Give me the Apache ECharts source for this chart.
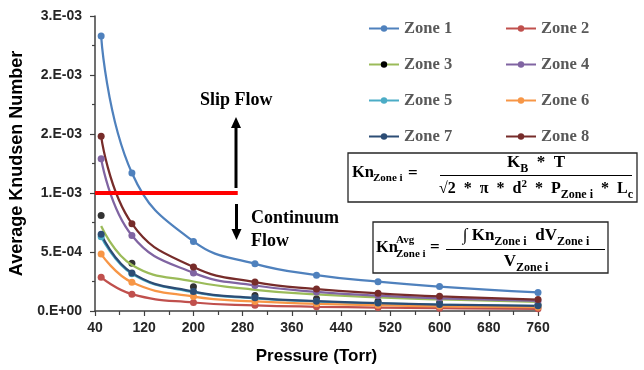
<!DOCTYPE html>
<html>
<head>
<meta charset="utf-8">
<script src="https://cdn.jsdelivr.net/npm/echarts@6/dist/echarts.min.js"></script>
<style>
  html, body { margin: 0; padding: 0; background: #fff; }
  #chart { width: 644px; height: 370px; }
</style>
</head>
<body>
<div id="chart"></div>
<script>
// pressure points (Torr)
const pressures = [50, 100, 200, 300, 400, 500, 600, 760];

// average Knudsen number per zone
const zone1 = [2.33e-3, 1.17e-3, 5.9e-4, 4.0e-4, 3.04e-4, 2.48e-4, 2.07e-4, 1.57e-4];
const zone2 = [2.85e-4, 1.43e-4, 7.2e-5, 4.8e-5, 3.6e-5, 2.9e-5, 2.4e-5, 1.9e-5];
const zone3 = [7.2e-4, 3.9e-4, 2.5e-4, 1.8e-4, 1.4e-4, 1.15e-4, 9.8e-5, 7.8e-5];
const zone4 = [1.29e-3, 6.4e-4, 3.23e-4, 2.16e-4, 1.62e-4, 1.3e-4, 1.08e-4, 8.5e-5];
const zone5 = [6.3e-4, 3.15e-4, 1.6e-4, 1.07e-4, 8.0e-5, 6.4e-5, 5.3e-5, 4.2e-5];
const zone6 = [4.82e-4, 2.43e-4, 1.22e-4, 8.1e-5, 6.1e-5, 4.9e-5, 4.0e-5, 3.2e-5];
const zone7 = [6.5e-4, 3.23e-4, 1.65e-4, 1.12e-4, 8.3e-5, 6.7e-5, 5.5e-5, 4.4e-5];
const zone8 = [1.48e-3, 7.4e-4, 3.73e-4, 2.45e-4, 1.86e-4, 1.5e-4, 1.24e-4, 9.7e-5];
// black markers drawn for zone 3
const zone3Markers = [8.1e-4, 4.05e-4, 2.05e-4, 1.32e-4, 1.04e-4, 8.3e-5, 6.9e-5, 5.4e-5];

const zoneNames = ['Zone 1', 'Zone 2', 'Zone 3', 'Zone 4', 'Zone 5', 'Zone 6', 'Zone 7', 'Zone 8'];
const zoneValues = [zone1, zone2, zone3, zone4, zone5, zone6, zone7, zone8];
const zoneColors = ['#4F81BD', '#C0504D', '#9BBB59', '#8064A2', '#4BACC6', '#F79646', '#2C4D75', '#772C2A'];

const yTickLabels = ['0.E+00', '5.E-04', '1.E-03', '2.E-03', '2.E-03', '3.E-03'];
const slipThreshold = 1e-3;
const thresholdRange = [40, 272];

const serif = 'Liberation Serif';
const sans = 'Liberation Sans';
const ink = '#262626';

const chart = echarts.init(document.getElementById('chart'));

const series = zoneValues.map((vals, i) => ({
  name: zoneNames[i],
  type: 'line',
  smooth: 0.45,
  data: pressures.map((p, j) => [p, vals[j]]),
  symbol: 'circle',
  symbolSize: i === 2 ? 0 : 7,
  lineStyle: { color: zoneColors[i], width: 2.25 },
  itemStyle: { color: i === 2 ? '#000' : zoneColors[i] },
  emphasis: { disabled: true },
  animation: false
}));

series.push({
  name: 'Zone 3 markers',
  type: 'scatter',
  data: pressures.map((p, j) => [p, zone3Markers[j]]),
  symbolSize: 7,
  itemStyle: { color: '#000' },
  animation: false
});

series.push({
  name: 'threshold',
  type: 'line',
  data: thresholdRange.map(p => [p, slipThreshold]),
  symbol: 'none',
  lineStyle: { color: '#FF0000', width: 4 },
  silent: true,
  animation: false
});

const legendStyle = {
  orient: 'vertical',
  top: 20,
  padding: 0,
  itemWidth: 30,
  itemHeight: 8,
  itemGap: 19,
  textStyle: { fontFamily: serif, fontWeight: 'bold', fontSize: 16.5, color: '#595959', lineHeight: 16 }
};

// fraction and formula helpers
const mathRich = {
  m: { fontFamily: serif, fontWeight: 'bold', fontSize: 17, color: '#000', lineHeight: 20 },
  n: { fontFamily: serif, fontWeight: 'bold', fontSize: 16, color: '#000', lineHeight: 20 },
  s: { fontFamily: serif, fontWeight: 'bold', fontSize: 12, color: '#000', lineHeight: 12, verticalAlign: 'bottom', padding: [0, 0, -2, 0] },
  p: { fontFamily: serif, fontWeight: 'bold', fontSize: 11, color: '#000', lineHeight: 12, verticalAlign: 'top' }
};
function mtext(x, y, text, align) {
  return {
    type: 'text', x: x, y: y,
    style: { text: text, rich: mathRich, align: align || 'left', verticalAlign: 'middle' }
  };
}
function plain(x, y, text, size) {
  return {
    type: 'text', x: x, y: y,
    style: { text: text, fontFamily: serif, fontWeight: 'bold', fontSize: size, fill: '#000', verticalAlign: 'middle' }
  };
}
function arrow(x, y0, y1, dir) {
  const tip = dir < 0 ? y1 - 11 : y1 + 11;
  return [
    { type: 'line', shape: { x1: x, y1: y0, x2: x, y2: y1 }, style: { stroke: '#000', lineWidth: 3 } },
    { type: 'polygon', shape: { points: [[x, tip], [x - 5, y1], [x + 5, y1]] }, style: { fill: '#000' } }
  ];
}

const graphics = [
  plain(200, 100, 'Slip Flow', 18),
  plain(251, 218, 'Continuum', 18),
  plain(251, 241, 'Flow', 18),
  ...arrow(236, 188, 128, -1),
  ...arrow(236.5, 204, 229, 1),
  // formula 1
  { type: 'rect', shape: { x: 348, y: 153, width: 289, height: 49 }, style: { fill: '#fff', stroke: ink, lineWidth: 1.3 } },
  plain(352, 173, 'Kn', 16.5),
  plain(373, 178, 'Zone i', 11),
  plain(408, 174, '=', 17),
  { type: 'line', shape: { x1: 440, y1: 175.5, x2: 632, y2: 175.5 }, style: { stroke: '#000', lineWidth: 1.2 } },
  mtext(536, 163, '{m|K}{s|B}{m|  *  T}', 'center'),
  mtext(536, 189, '{n|√2  *  π  *  d}{p|2}{n|  *  P}{s|Zone i}{n|  *  L}{s|c}', 'center'),
  // formula 2
  { type: 'rect', shape: { x: 373, y: 222, width: 235, height: 51 }, style: { fill: '#fff', stroke: ink, lineWidth: 1.3 } },
  plain(376, 248, 'Kn', 16.5),
  plain(396, 240, 'Avg', 11),
  plain(396, 254, 'Zone i', 11),
  plain(430, 248, '=', 17),
  { type: 'line', shape: { x1: 446, y1: 249.5, x2: 605, y2: 249.5 }, style: { stroke: '#000', lineWidth: 1.2 } },
  mtext(526, 236, '{m|∫ Kn}{s|Zone i}{m|  dV}{s|Zone i}', 'center'),
  mtext(526, 262, '{m|V}{s|Zone i}', 'center')
];

const option = {
  backgroundColor: '#fff',
  animation: false,
  grid: { left: 95, right: 106, top: 16, bottom: 53.5, containLabel: false },
  legend: [
    Object.assign({ left: 368, data: ['Zone 1', 'Zone 3', 'Zone 5', 'Zone 7'] }, legendStyle),
    Object.assign({ left: 505, data: ['Zone 2', 'Zone 4', 'Zone 6', 'Zone 8'] }, legendStyle)
  ],
  xAxis: {
    type: 'value',
    min: 40,
    max: 760,
    interval: 80,
    name: 'Pressure (Torr)',
    nameLocation: 'middle',
    nameGap: 37,
    nameTextStyle: { fontFamily: sans, fontWeight: 'bold', fontSize: 17, color: '#000' },
    axisLine: { show: true, onZero: false, lineStyle: { color: '#404040', width: 1.5 } },
    axisTick: { show: true, length: 5, lineStyle: { color: '#404040', width: 1.2 } },
    minorTick: { show: true, splitNumber: 2, length: 4, lineStyle: { color: '#404040', width: 1.2 } },
    splitLine: { show: false },
    axisLabel: { fontFamily: sans, fontWeight: 'bold', fontSize: 14, color: ink, margin: 10 }
  },
  yAxis: {
    type: 'value',
    min: 0,
    max: 2.5e-3,
    interval: 5e-4,
    name: 'Average Knudsen Number',
    nameLocation: 'middle',
    nameGap: 65,
    nameTextStyle: { fontFamily: sans, fontWeight: 'bold', fontSize: 18, color: '#000' },
    axisLine: { show: true, lineStyle: { color: '#404040', width: 1.5 } },
    axisTick: { show: true, length: 5, lineStyle: { color: '#404040', width: 1.2 } },
    minorTick: { show: true, splitNumber: 2, length: 3, lineStyle: { color: '#404040', width: 1.2 } },
    splitLine: { show: false },
    axisLabel: {
      fontFamily: sans, fontWeight: 'bold', fontSize: 14, color: ink, margin: 13,
      formatter: v => yTickLabels[Math.round(v / 5e-4)]
    }
  },
  series: series,
  graphic: graphics
};

chart.setOption(option);
</script>
</body>
</html>
